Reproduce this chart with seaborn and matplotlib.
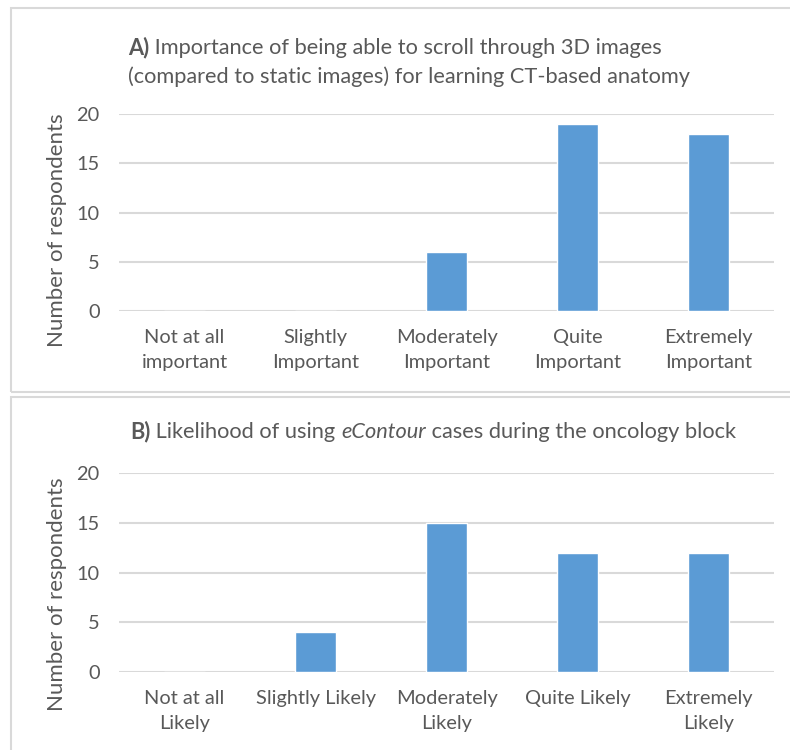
import matplotlib
matplotlib.use("Agg")
import matplotlib.pyplot as plt
from matplotlib.patches import Rectangle
import seaborn as sns
import pandas as pd

# Survey responses
importance_levels = ["Not at all\nimportant", "Slightly\nImportant", "Moderately\nImportant",
                     "Quite\nImportant", "Extremely\nImportant"]
importance_counts = [0, 0, 6, 19, 18]

likelihood_levels = ["Not at all\nLikely", "Slightly Likely", "Moderately\nLikely",
                     "Quite Likely", "Extremely\nLikely"]
likelihood_counts = [0, 4, 15, 12, 12]

y_ticks = [0, 5, 10, 15, 20]

BAR = "#5B9BD5"
GRID = "#D9D9D9"
TEXT = "#595959"
FONT = "Lato"

sns.set_theme(style="white")
plt.rcParams["font.family"] = [FONT, "DejaVu Sans"]

W, H = 790, 750
fig = plt.figure(figsize=(W / 100, H / 100), dpi=100)


def fx(px):
    return px / W


def fy(py):
    return 1 - py / H


# Panel frames
for top, bottom in [(8, 392), (397, 760)]:
    fig.patches.append(Rectangle((fx(11), fy(bottom)), fx(800) - fx(11), fy(top) - fy(bottom),
                                 transform=fig.transFigure, fill=False,
                                 edgecolor=GRID, linewidth=1.5, zorder=0))


def panel(top_px, bottom_px, labels, values, label_y):
    ax = fig.add_axes([fx(119), fy(bottom_px), fx(774) - fx(119), fy(top_px) - fy(bottom_px)])
    df = pd.DataFrame({"level": labels, "count": values})
    sns.barplot(data=df, x="level", y="count", color=BAR, width=0.31,
                saturation=1, ax=ax, zorder=3)
    ax.set_ylim(0, 20)
    ax.set_yticks(y_ticks)
    ax.set_xlim(-0.5, len(labels) - 0.5)
    ax.grid(axis="y", color=GRID, linewidth=1.5, zorder=0)
    ax.set_axisbelow(True)
    for s in ax.spines.values():
        s.set_visible(False)
    ax.tick_params(axis="both", length=0, colors=TEXT, labelsize=14.4)
    ax.tick_params(axis="y", pad=14)
    ax.tick_params(axis="x", pad=13)
    for t in ax.get_xticklabels():
        t.set_linespacing(1.55)
    ax.set_xlabel("")
    ax.set_ylabel("Number of respondents", color=TEXT, fontsize=16)
    ax.yaxis.set_label_coords(-0.08, label_y)
    return ax


ax_a = panel(114, 311, importance_levels, importance_counts, 0.41)
ax_b = panel(473, 672, likelihood_levels, likelihood_counts, 0.39)

title_kw = dict(color=TEXT, fontsize=15.7, va="baseline", ha="left")


def rich_title(x_px, y_px, pieces):
    """Draw consecutive text runs with different styles on one baseline."""
    renderer = fig.canvas.get_renderer()
    x = fx(x_px)
    for text, style in pieces:
        t = fig.text(x, fy(y_px), text, **style, **title_kw)
        bb = t.get_window_extent(renderer=renderer)
        x += bb.width / W


rich_title(128, 54, [("A)", dict(fontweight="bold")),
                     (" Importance of being able to scroll through 3D images", {})])
fig.text(fx(128), fy(83), "(compared to static images) for learning CT-based anatomy", **title_kw)

rich_title(130, 438, [("B)", dict(fontweight="bold")),
                      (" Likelihood of using ", {}),
                      ("eContour", dict(fontstyle="italic")),
                      (" cases during the oncology block", {})])

fig.savefig("out.png", dpi=100)
